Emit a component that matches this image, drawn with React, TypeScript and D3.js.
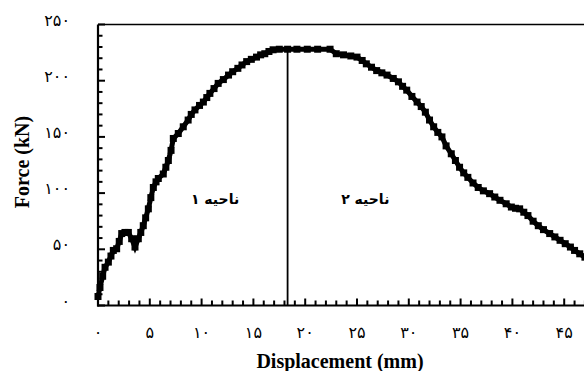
import React from "react";
import * as d3 from "d3";

const forceData: [number, number][] = [
  [0, 8], [0.19, 16], [0.45, 26], [0.68, 34], [1.0, 38.6], [1.25, 44], [1.48, 49], [1.8, 50.5],
  [2.05, 57], [2.29, 64], [2.6, 65], [2.93, 65], [3.25, 59.4], [3.57, 52], [3.89, 59.4],
  [4.13, 65], [4.37, 71], [4.6, 78], [4.86, 86], [5.1, 96], [5.34, 105], [5.6, 110], [5.82, 113],
  [6.3, 117], [6.55, 123], [6.79, 129], [7.05, 138], [7.27, 148.6], [7.75, 153], [8.23, 159],
  [8.7, 165], [9.0, 170], [9.36, 174], [9.8, 178], [10.17, 181], [10.5, 185], [10.8, 188.7],
  [11.2, 193], [11.6, 197.6], [12.1, 201], [12.6, 205], [13.0, 208], [13.5, 211], [13.9, 214],
  [14.35, 217], [14.8, 219], [15.3, 221], [15.7, 223], [16.1, 224], [16.5, 226], [16.9, 227.5],
  [17.5, 228], [18.3, 228], [19.2, 228], [20.2, 228], [21.2, 228], [22.4, 228], [23.0, 224],
  [23.7, 223], [24.4, 222], [25.0, 221], [25.5, 218], [25.9, 215], [26.4, 212], [26.9, 209],
  [27.4, 207], [27.9, 205], [28.5, 202], [29.0, 199], [29.4, 195], [29.8, 191.6], [30.3, 186],
  [30.8, 181], [31.2, 177], [31.6, 172], [32.0, 165], [32.4, 159], [32.8, 154], [33.2, 150],
  [33.6, 142], [34.1, 135], [34.5, 129], [34.9, 123], [35.3, 118], [35.7, 114], [36.2, 109],
  [36.7, 105], [37.2, 102], [37.8, 99.5], [38.3, 96.5], [38.8, 93.6], [39.4, 90.5], [39.9, 87.6],
  [40.3, 86.5], [40.7, 86], [41.1, 83], [41.5, 80], [42.0, 75], [42.5, 71], [43.0, 67.5],
  [43.6, 64], [44.1, 61], [44.6, 58], [45.1, 55], [45.6, 52], [46.0, 49], [46.5, 46], [47.0, 43]
];

const xTickValues = [0, 5, 10, 15, 20, 25, 30, 35, 40, 45];
const xTickLabels = ["۰", "۵", "۱۰", "۱۵", "۲۰", "۲۵", "۳۰", "۳۵", "۴۰", "۴۵"];
const yTickValues = [0, 50, 100, 150, 200, 250];
const yTickLabels = ["۰", "۵۰", "۱۰۰", "۱۵۰", "۲۰۰", "۲۵۰"];
const regionLineX = 18.3;
const regionLabels = ["ناحیه ۱", "ناحیه ۲"];
const regionLabelPos: [number, number][] = [[11.3, 90], [25.8, 90]];

export default function App() {
  const W = 584, H = 371;
  const x = d3.scaleLinear().domain([0, 50]).range([98, 616]);
  const y = d3.scaleLinear().domain([0, 250]).range([305.5, 24.5]);
  const line = d3.line<[number, number]>().x(d => x(d[0])).y(d => y(d[1]));
  const xMinor = d3.range(0, 50, 1);
  const yMinor = d3.range(0, 251, 10);
  const serif = "'Liberation Serif', 'Times New Roman', serif";
  const arab = "'DejaVu Sans', 'Noto Sans', sans-serif";
  return (
    <svg width={W} height={H} style={{ position: "absolute", left: 0, top: 0, background: "#fff" }}>
      <rect x={0} y={0} width={W} height={H} fill="#fff" />
      {/* frame */}
      <line x1={x(0)} x2={W} y1={y(250)} y2={y(250)} stroke="#000" strokeWidth={1.5} />
      <line x1={x(0)} x2={x(0)} y1={y(250)} y2={y(0) + 1} stroke="#000" strokeWidth={2.2} />
      <line x1={x(0) - 1} x2={W} y1={y(0)} y2={y(0)} stroke="#000" strokeWidth={2.2} />
      {/* y ticks */}
      {yMinor.map(v => (
        <line key={"ym" + v} x1={x(0)} x2={x(0) + (v % 50 === 0 ? 7 : 4.5)} y1={y(v)} y2={y(v)} stroke="#000" strokeWidth={2} />
      ))}
      {/* x ticks */}
      {xMinor.map(v => (
        <line key={"xm" + v} x1={x(v)} x2={x(v)} y1={y(0)} y2={y(0) - (v % 5 === 0 ? 7 : 5)} stroke="#000" strokeWidth={2} />
      ))}
      {yTickValues.map((v, i) => (
        <text key={"yl" + i} x={70} y={y(v) + 1} textAnchor="end" fontFamily={arab} fontSize={16} letterSpacing={1} fill="#000">{yTickLabels[i]}</text>
      ))}
      {xTickValues.map((v, i) => (
        <text key={"xl" + i} x={x(v)} y={338} textAnchor="middle" fontFamily={arab} fontSize={16} letterSpacing={1} fill="#000">{xTickLabels[i]}</text>
      ))}
      {/* region divider */}
      <line x1={x(regionLineX)} x2={x(regionLineX)} y1={y(226)} y2={y(0)} stroke="#000" strokeWidth={1.8} />
      {/* curve */}
      <path d={line(forceData) || ""} fill="none" stroke="#000" strokeWidth={5} strokeLinejoin="miter" />
      {forceData.map((d, i) => (
        <rect key={"m" + i} x={x(d[0]) - 3.5} y={y(d[1]) - 3.5} width={7} height={7} fill="#000" />
      ))}
      {regionLabels.map((t, i) => (
        <text key={"rl" + i} x={x(regionLabelPos[i][0])} y={y(regionLabelPos[i][1])} textAnchor="middle" fontFamily={arab} fontWeight="bold" fontSize={14} fill="#000">{t}</text>
      ))}
      <text x={340} y={368} textAnchor="middle" fontFamily={serif} fontWeight="bold" fontSize={20} fill="#000">Displacement (mm)</text>
      <text transform="translate(29,162) rotate(-90)" textAnchor="middle" fontFamily={serif} fontWeight="bold" fontSize={20} fill="#000">Force (kN)</text>
    </svg>
  );
}
